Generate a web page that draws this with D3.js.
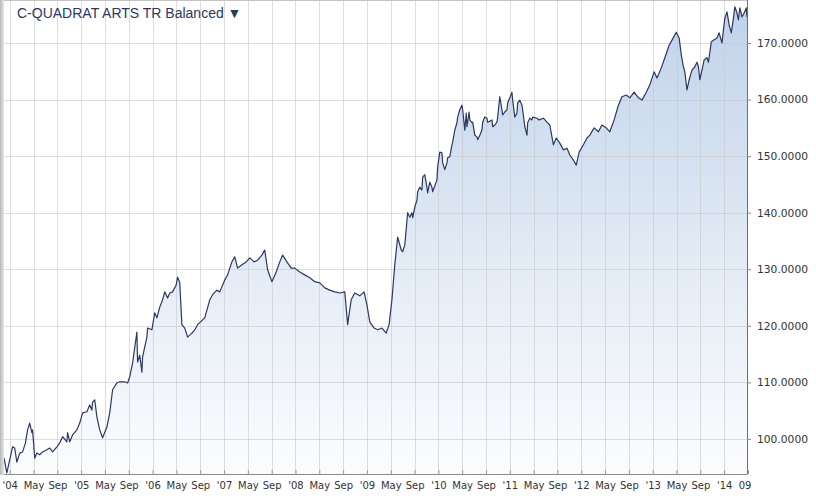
<!DOCTYPE html>
<html><head><meta charset="utf-8">
<script src="https://cdn.jsdelivr.net/npm/d3@7/dist/d3.min.js"></script>
<style>body{margin:0;background:#fff;overflow:hidden}</style>
</head><body>
<svg id="chart" width="816" height="496"></svg>
<script>
const chartTitle = "C-QUADRAT ARTS TR Balanced \u25BC";

// decimal-year dates of the price points
const dates = [
  2003.92,2003.96,2004.04,2004.07,2004.10,2004.14,2004.18,2004.22,2004.25,2004.28,2004.31,2004.32,2004.35,2004.38,2004.42,2004.46,2004.52,2004.56,2004.60,2004.66,2004.70,2004.74,2004.80,2004.81,2004.84,2004.88,2004.94,2004.98,
  2005.02,2005.08,2005.12,2005.15,2005.16,2005.19,2005.22,2005.26,2005.30,2005.36,2005.40,2005.44,2005.50,2005.54,2005.61,2005.65,2005.68,2005.72,2005.78,2005.79,2005.82,2005.85,2005.86,2005.92,2005.93,2005.99,
  2006.03,2006.06,2006.10,2006.14,2006.17,2006.21,2006.24,2006.28,2006.33,2006.35,2006.38,2006.41,2006.45,2006.49,2006.55,2006.59,2006.63,2006.73,2006.80,2006.84,2006.90,2006.94,
  2007.01,2007.05,2007.11,2007.15,2007.19,2007.25,2007.31,2007.36,2007.42,2007.47,2007.53,2007.57,2007.61,2007.67,2007.73,2007.78,2007.82,2007.88,2007.94,2007.99,
  2008.06,2008.13,2008.20,2008.27,2008.34,2008.41,2008.48,2008.55,2008.62,2008.69,2008.73,2008.78,2008.83,2008.90,2008.96,
  2009.00,2009.04,2009.10,2009.15,2009.21,2009.27,2009.31,2009.35,2009.39,2009.43,2009.48,2009.50,2009.53,2009.57,2009.60,2009.63,2009.64,2009.67,2009.70,2009.71,2009.74,2009.77,2009.78,2009.81,2009.84,2009.85,2009.88,2009.91,2009.92,2009.98,2009.99,
  2010.02,2010.05,2010.06,2010.09,2010.12,2010.13,2010.16,2010.19,2010.20,2010.23,2010.26,2010.27,2010.30,2010.33,2010.34,2010.37,2010.39,2010.40,2010.43,2010.44,2010.47,2010.48,2010.51,2010.54,2010.55,2010.58,2010.61,2010.62,2010.65,2010.68,2010.69,2010.75,2010.76,2010.79,2010.82,2010.83,2010.86,2010.89,2010.90,2010.93,2010.96,2010.97,
  2011.00,2011.03,2011.04,2011.07,2011.10,2011.11,2011.14,2011.17,2011.18,2011.21,2011.24,2011.25,2011.28,2011.31,2011.32,2011.38,2011.41,2011.47,2011.52,2011.56,2011.61,2011.65,2011.70,2011.75,2011.80,2011.84,2011.89,2011.93,2011.97,
  2012.03,2012.08,2012.12,2012.18,2012.24,2012.29,2012.35,2012.40,2012.46,2012.52,2012.57,2012.63,2012.68,2012.74,2012.80,2012.85,2012.91,2012.96,
  2013.02,2013.06,2013.12,2013.17,2013.23,2013.27,2013.33,2013.37,2013.40,2013.43,2013.45,2013.48,2013.51,2013.55,2013.59,2013.62,2013.64,2013.66,2013.69,2013.72,2013.76,2013.78,2013.82,2013.85,2013.90,2013.93,2013.97,2013.99,
  2014.01,2014.04,2014.07,2014.10,2014.13,2014.15,2014.18,2014.20,2014.22,2014.25,2014.28,2014.31,2014.32
];

// fund price values
const prices = [
  96.6,94.0,98.6,98.4,95.9,97.5,97.7,99.3,101.6,102.8,101.1,101.6,96.6,97.5,97.2,97.7,98.1,98.4,97.7,98.6,99.3,100.4,99.5,101.1,99.5,100.7,101.6,102.8,
  104.6,104.8,106.0,105.1,106.5,106.9,103.9,101.6,100.2,102.1,104.6,108.7,109.9,110.1,110.1,109.9,111.0,113.4,118.9,113.6,114.8,111.8,114.5,118.0,119.6,119.3,
  122.3,121.4,123.3,124.6,126.0,124.9,125.8,126.0,127.2,128.6,127.6,120.2,119.6,118.0,118.7,119.3,120.2,121.4,124.6,125.5,126.3,126.0,
  128.1,129.0,131.3,132.2,130.2,130.8,131.3,132.0,131.3,131.6,132.5,133.4,129.9,127.8,129.5,131.3,132.5,131.3,130.2,130.2,
  129.5,129.0,128.5,127.8,127.6,126.7,126.3,126.0,125.8,126.0,120.2,124.6,125.8,125.3,126.0,
  123.7,120.7,119.6,119.3,119.6,118.7,120.2,124.6,130.8,135.7,133.4,133.1,134.3,140.0,139.2,140.0,139.1,141.0,142.2,143.7,144.5,144.0,146.3,146.7,144.5,143.5,145.4,144.5,143.7,145.8,148.1,
  150.7,150.6,148.8,147.6,148.8,149.7,149.9,152.0,152.5,154.6,155.9,156.9,158.2,159.0,158.2,154.6,157.6,155.2,157.8,156.4,155.9,156.0,153.7,153.4,152.9,153.7,154.6,156.0,156.9,156.7,156.0,156.4,155.2,155.5,156.0,156.9,160.5,158.2,157.3,157.8,158.2,159.4,
  160.3,161.3,159.9,156.9,157.6,159.4,159.9,159.0,158.2,155.2,153.7,155.9,156.7,156.4,156.9,156.7,156.4,156.7,156.0,155.5,152.0,153.2,152.3,151.1,151.4,150.2,149.3,148.4,150.7,
  152.0,153.2,153.7,155.0,154.3,155.5,155.0,154.3,156.4,159.0,160.5,160.8,160.3,161.3,160.3,159.9,161.3,162.6,
  164.9,163.8,165.6,167.4,169.6,170.5,171.9,170.9,167.9,165.8,164.9,161.7,163.5,165.2,165.8,166.6,165.8,163.5,165.2,167.0,167.4,166.6,170.2,170.5,170.9,171.8,170.0,172.3,
  174.4,175.5,173.2,171.8,174.4,176.4,175.3,174.1,176.2,174.6,175.3,176.2,174.6
];

const xTickLabels = [
  "'04","May","Sep","'05","May","Sep","'06","May","Sep","'07","May","Sep",
  "'08","May","Sep","'09","May","Sep","'10","May","Sep","'11","May","Sep",
  "'12","May","Sep","'13","May","Sep","'14","09"
];
const yTickValues = [100,110,120,130,140,150,160,170];

const data = dates.map((d, i) => ({t: d, v: prices[i]}));

const svg = d3.select("#chart");
const pLeft = 4, pRight = 747, pTop = 0, pBottom = 474;

const x = d3.scaleLinear().domain(d3.extent(dates)).range([pLeft, pRight]);
const y = d3.scaleLinear().domain([93.8, 177.6]).range([pBottom, pTop]);

const xTickValues = xTickLabels.map((_, i) => 2004 + i / 3);

const defs = svg.append("defs");
const grad = defs.append("linearGradient").attr("id", "areaGrad")
  .attr("gradientUnits", "userSpaceOnUse").attr("x1", 0).attr("x2", 0).attr("y1", pTop).attr("y2", pBottom);
grad.append("stop").attr("offset", "0%").attr("stop-color", "#bfd2ea");
grad.append("stop").attr("offset", "55%").attr("stop-color", "#e3ebf5");
grad.append("stop").attr("offset", "100%").attr("stop-color", "#fbfcfe");

const shadow = defs.append("linearGradient").attr("id", "shadowGrad");
shadow.append("stop").attr("offset", "0%").attr("stop-color", "#b8b8b8");
shadow.append("stop").attr("offset", "100%").attr("stop-color", "#e8e8e8");

// area
svg.append("path").datum(data)
  .attr("fill", "url(#areaGrad)")
  .attr("d", d3.area().x(d => x(d.t)).y0(pBottom).y1(d => y(d.v)));

// grid
const grid = svg.append("g");
grid.selectAll("line.v").data(xTickValues.slice(0, -1)).join("line")
  .attr("x1", d => Math.round(x(d)) + 0.5).attr("x2", d => Math.round(x(d)) + 0.5)
  .attr("y1", pTop).attr("y2", pBottom)
  .attr("stroke", "#c8c8c8").attr("stroke-opacity", 0.6);
grid.selectAll("line.h").data(yTickValues).join("line")
  .attr("x1", pLeft).attr("x2", pRight)
  .attr("y1", d => Math.round(y(d)) + 0.5).attr("y2", d => Math.round(y(d)) + 0.5)
  .attr("stroke", "#c8c8c8").attr("stroke-opacity", 0.6);

// line
svg.append("path").datum(data)
  .attr("fill", "none").attr("stroke", "#2b3862").attr("stroke-width", 1.2)
  .attr("stroke-linejoin", "round")
  .attr("d", d3.line().x(d => x(d.t)).y(d => y(d.v)));

// frame
svg.append("rect").attr("x", 0).attr("y", 0).attr("width", pLeft).attr("height", pBottom + 1).attr("fill", "url(#shadowGrad)");
svg.append("line").attr("x1", pLeft).attr("x2", pRight).attr("y1", 0.5).attr("y2", 0.5).attr("stroke", "#c4c4c4");

// x axis
const xAxis = svg.append("g").attr("transform", `translate(0,${pBottom})`)
  .call(d3.axisBottom(x).tickValues(xTickValues).tickSize(-4).tickPadding(8)
    .tickFormat((d, i) => xTickLabels[i]));
xAxis.select(".domain").attr("stroke", "#8a8a8a").attr("d", `M${pLeft},0.5H${pRight}`);
xAxis.selectAll(".tick line").attr("stroke", "#9a9a9a");
xAxis.selectAll(".tick text").attr("fill", "#333").style("font-family", "'DejaVu Sans', Verdana, sans-serif").style("font-size", "10px");
xAxis.selectAll(".tick").filter((d, i) => i === xTickLabels.length - 1).select("text").attr("text-anchor", "end").attr("dx", "3");

// y axis (right)
const yAxis = svg.append("g").attr("transform", `translate(${pRight},0)`)
  .call(d3.axisRight(y).tickValues(yTickValues).tickSize(4).tickPadding(6).tickFormat(d3.format(".4f")));
yAxis.select(".domain").attr("stroke", "#6f6f6f").attr("d", `M0.5,${pTop}V${pBottom + 0.5}`);
yAxis.selectAll(".tick line").attr("stroke", "#8a8a8a");
yAxis.selectAll(".tick text").attr("fill", "#333").style("font-family", "'DejaVu Sans', Verdana, sans-serif").style("font-size", "10.7px");

// title
svg.append("text").attr("x", 17).attr("y", 18)
  .attr("fill", "#2b3862")
  .style("font-family", "'Liberation Sans', Arial, sans-serif").style("font-size", "14px")
  .text(chartTitle);
</script>
</body></html>
